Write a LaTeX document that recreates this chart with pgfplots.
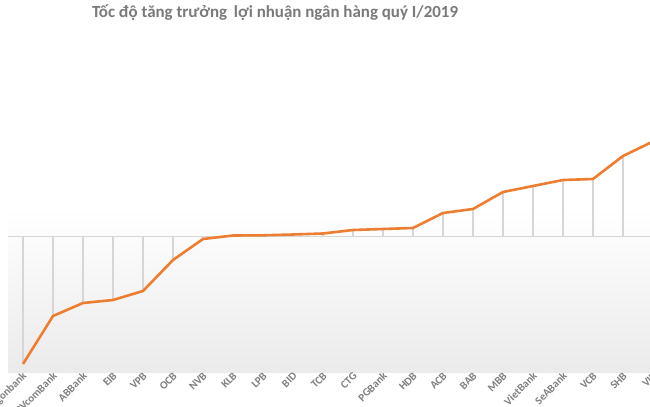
\documentclass[border=0pt]{standalone}
\usepackage{pgfplots}
\pgfplotsset{compat=1.18}
\usepackage{fontspec}
\setmainfont{Carlito}
\definecolor{lineorange}{HTML}{ED7D31}
\definecolor{titlegray}{HTML}{7A7A7A}
\definecolor{labelgray}{HTML}{7F7F7F}
\definecolor{dropgray}{HTML}{D6D6D6}
\begin{document}
\begin{tikzpicture}[x=1bp,y=1bp]
\useasboundingbox (0,0) rectangle (650,406);
\clip (0,0) rectangle (650,406);
\fill[white] (0,0) rectangle (650,406);
\begin{axis}[
  at={(8bp,34bp)}, anchor=south west,
  scale only axis,
  width=660bp, height=327bp,
  xmin=-0.5, xmax=21.5,
  ymin=-135.5, ymax=191.5,
  axis line style={draw=none},
  axis background/.style={shade, top color=white, bottom color=black!8, middle color=white},
  xtick={0,...,21},
  xticklabels={Saigonbank,PVcomBank,ABBank,EIB,VPB,OCB,NVB,KLB,LPB,BID,TCB,CTG,PGBank,HDB,ACB,BAB,MBB,VietBank,SeABank,VCB,SHB,VIB},
  xticklabel style={rotate=45, anchor=east, font=\fontsize{11}{12}\selectfont\bfseries, text=labelgray, inner sep=1bp, yshift=-3bp, xshift=1bp},
  xtick style={draw=none},
  ytick={0},
  yticklabels={},
  ytick style={draw=none},
  ymajorgrids,
  major grid style={dropgray, line width=1bp},
  clip=true,
]
\addplot[ycomb, dropgray, line width=1.1bp, forget plot] coordinates {
(0,-127.5) (1,-79.5) (2,-66.5) (3,-63.5) (4,-54.5) (5,-23.5) (6,-2.5)
(7,1) (8,1.2) (9,2) (10,3) (11,6.5) (12,7.5) (13,8.5) (14,23.5)
(15,27.5) (16,44.5) (17,50.5) (18,56.5) (19,57.5) (20,80.5) (21,95)
};
\addplot[lineorange, line width=2.6bp, line join=round, mark=none] coordinates {
(0,-127.5) (1,-79.5) (2,-66.5) (3,-63.5) (4,-54.5) (5,-23.5) (6,-2.5)
(7,1) (8,1.2) (9,2) (10,3) (11,6.5) (12,7.5) (13,8.5) (14,23.5)
(15,27.5) (16,44.5) (17,50.5) (18,56.5) (19,57.5) (20,80.5) (21,95)
};
\end{axis}
\node[text=titlegray, font=\fontsize{17}{20}\selectfont\bfseries] at (275,393) {Tốc độ tăng trưởng\, lợi nhuận ngân hàng quý I/2019};
\end{tikzpicture}
\end{document}
